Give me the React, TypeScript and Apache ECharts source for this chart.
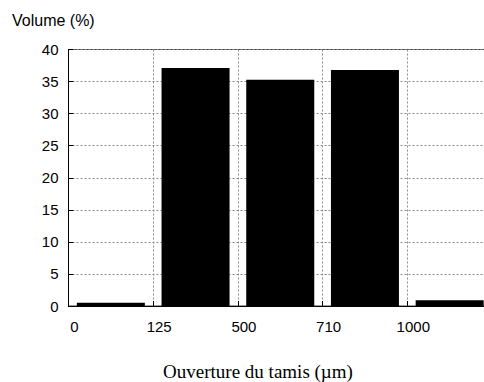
import React, { useEffect, useRef } from "react";
import * as echarts from "echarts";

const tickLabels = ["0", "125", "500", "710", "1000"];
const binPositions = [0.5, 1.5, 2.5, 3.5, 4.5];
const volumes = [0.5, 37.1, 35.3, 36.8, 0.9];
const yTitle = "Volume (%)";
const xTitle = "Ouverture du tamis (\u00b5m)";

export default function App() {
  const ref = useRef<HTMLDivElement>(null);
  useEffect(() => {
    if (!ref.current) return;
    const chart = echarts.init(ref.current, null, { renderer: "svg" });
    const grid = "#8a8a8a";
    chart.setOption({
      animation: false,
      backgroundColor: "#ffffff",
      grid: {
        left: 68.5,
        top: 49.5,
        bottom: 76,
        right: 0,
        show: true,
        borderColor: "#444",
        borderWidth: 1,
        containLabel: false,
      },
      xAxis: {
        type: "value",
        min: 0,
        max: 5,
        interval: 1,
        axisLine: { show: true, onZero: false, lineStyle: { color: "#000", width: 1 } },
        axisTick: { show: true, inside: true, length: 5, lineStyle: { color: "#000" } },
        splitLine: { show: true, lineStyle: { color: grid, type: [2, 2], width: 1 } },
        axisLabel: {
          color: "#000",
          fontFamily: "Liberation Sans, Arial, sans-serif",
          fontSize: 15,
          margin: 13,
          padding: [0, 0, 0, 12],
          showMaxLabel: false,
          formatter: (v: number) => tickLabels[Math.round(v)] ?? "",
        },
      },
      yAxis: {
        type: "value",
        min: 0,
        max: 40,
        interval: 5,
        axisLine: { show: true, lineStyle: { color: "#000", width: 1 } },
        axisTick: { show: true, inside: true, length: 5, lineStyle: { color: "#000" } },
        splitLine: { show: true, lineStyle: { color: grid, type: [2, 2], width: 1 } },
        axisLabel: {
          color: "#000",
          fontFamily: "Liberation Sans, Arial, sans-serif",
          fontSize: 15,
          margin: 10,
        },
      },
      graphic: [
        {
          type: "text",
          left: 12,
          top: 12,
          style: {
            text: yTitle,
            fill: "#000",
            font: "16px 'Liberation Sans', Arial, sans-serif",
          },
        },
        {
          type: "text",
          x: 258,
          y: 371,
          style: {
            text: xTitle,
            fill: "#000",
            font: "19px 'Liberation Serif', 'Times New Roman', serif",
            textAlign: "center",
            textVerticalAlign: "middle",
          },
        },
      ],
      series: [
        {
          type: "bar",
          data: binPositions.map((x, i) => [x, volumes[i]]),
          barWidth: 68,
          itemStyle: { color: "#000" },
        },
      ],
    });
    return () => chart.dispose();
  }, []);
  return (
    <div
      ref={ref}
      style={{ position: "fixed", left: 0, top: 0, width: 492, height: 382 }}
    />
  );
}
